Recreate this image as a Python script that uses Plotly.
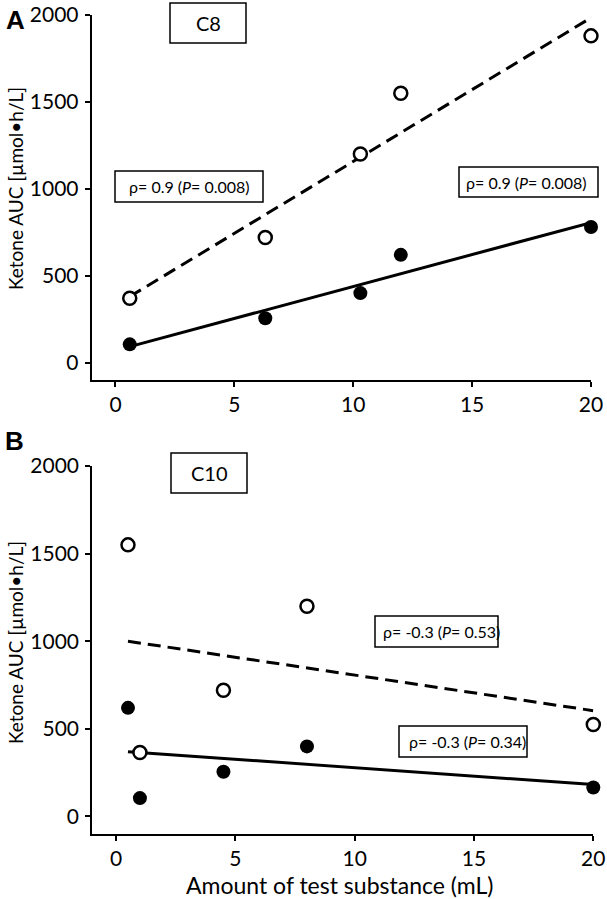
import numpy as np
import plotly.graph_objects as go

W, H = 607, 899

# ---- data ----
c8_x = [0.6, 6.3, 10.3, 12.0, 20.0]
c8_open = [370, 720, 1200, 1550, 1880]
c8_filled = [105, 255, 400, 620, 780]

c10_x = [0.5, 1.0, 4.5, 8.0, 20.0]
c10_open = [1550, 365, 720, 1200, 525]
c10_filled = [620, 105, 255, 400, 165]

y_ticks = [0, 500, 1000, 1500, 2000]
x_ticks = [0, 5, 10, 15, 20]

c8_labels = ["ρ= 0.9 (<i>P</i>= 0.008)", "ρ= 0.9 (<i>P</i>= 0.008)"]
c10_labels = ["ρ= -0.3 (<i>P</i>= 0.53)", "ρ= -0.3 (<i>P</i>= 0.34)"]
y_title = "Ketone AUC [µmol•h/L]"
x_title = "Amount of test substance (mL)"

FONT = "Lato"


def px(x):
    return x / W


def py(y):
    return 1 - y / H


def fit_line(x, y):
    x = np.asarray(x, float)
    y = np.asarray(y, float)
    k, b = np.polyfit(x, y, 1)
    xs = np.array([x.min(), x.max()])
    return xs, k * xs + b


fig = go.Figure()

panels = [
    ("x", "y", c8_x, c8_open, c8_filled),
    ("x2", "y2", c10_x, c10_open, c10_filled),
]
for xa, ya, xs, yo, yf in panels:
    lx, ly = fit_line(xs, yo)
    fig.add_trace(go.Scatter(x=lx, y=ly, mode="lines", xaxis=xa, yaxis=ya,
                             line=dict(color="black", width=3, dash="13px,7px"),
                             showlegend=False, cliponaxis=False, hoverinfo="skip"))
    lx, ly = fit_line(xs, yf)
    fig.add_trace(go.Scatter(x=lx, y=ly, mode="lines", xaxis=xa, yaxis=ya,
                             line=dict(color="black", width=3),
                             showlegend=False, cliponaxis=False, hoverinfo="skip"))
    fig.add_trace(go.Scatter(x=xs, y=yo, mode="markers", xaxis=xa, yaxis=ya,
                             marker=dict(symbol="circle", size=13, color="white",
                                         line=dict(color="black", width=2.5)),
                             showlegend=False, cliponaxis=False))
    fig.add_trace(go.Scatter(x=xs, y=yf, mode="markers", xaxis=xa, yaxis=ya,
                             marker=dict(symbol="circle", size=14, color="black",
                                         line=dict(color="black", width=0)),
                             showlegend=False, cliponaxis=False))

axis_common = dict(showline=True, linewidth=2, linecolor="black", showgrid=False,
                   zeroline=False, ticks="outside", ticklen=5, tickwidth=2,
                   tickcolor="black", automargin=False,
                   tickfont=dict(family=FONT, size=21, color="black"))

fig.update_layout(
    width=W, height=H, autosize=False,
    margin=dict(l=0, r=0, t=0, b=0, pad=0, autoexpand=False),
    paper_bgcolor="white", plot_bgcolor="white",
    xaxis=dict(domain=[px(91.7), px(591)], range=[-1, 20], tickvals=x_ticks,
               anchor="y", **axis_common),
    yaxis=dict(domain=[py(380), py(15)], range=[-100, 2000], tickvals=y_ticks,
               anchor="x", ticklabelstandoff=2, **axis_common),
    xaxis2=dict(domain=[px(92.2), px(593.3)], range=[-1, 20], tickvals=x_ticks,
                anchor="y2", **axis_common),
    yaxis2=dict(domain=[py(834), py(466)], range=[-100, 2000], tickvals=y_ticks,
                anchor="x2", ticklabelstandoff=2, **axis_common),
)

ann = []
shapes = []


def box(x0, y0, x1, y1):
    shapes.append(dict(type="rect", xref="paper", yref="paper",
                       x0=px(x0), x1=px(x1), y0=py(y1), y1=py(y0),
                       line=dict(color="black", width=1.5), fillcolor="white",
                       layer="above"))


def label(text, x, y, size=16, anchor="left"):
    ann.append(dict(text=text, x=px(x), y=py(y), xref="paper", yref="paper",
                    showarrow=False, xanchor=anchor, yanchor="middle",
                    font=dict(family=FONT, size=size, color="black")))


# panel A
box(170, 3, 246, 43)
label("C8", 208, 23, size=20, anchor="center")
box(115, 171, 263, 202)
label(c8_labels[0], 189, 186.5, anchor="center")
box(459, 167, 598, 197)
label(c8_labels[1], 464, 182.5)
# panel B
box(171, 453, 247, 493)
label("C10", 209, 473, size=20, anchor="center")
box(375, 616, 498, 647)
label(c10_labels[0], 381, 631.5)
box(399, 726, 527, 757)
label(c10_labels[1], 407, 741.5)

for letter, cx, cy in [("A", 15.5, 20), ("B", 14.5, 441)]:
    ann.append(dict(text="<b>%s</b>" % letter, x=px(cx), y=py(cy), xref="paper",
                    yref="paper", showarrow=False, xanchor="center", yanchor="middle",
                    font=dict(family="Liberation Sans", size=26, color="black")))

for cy in (189, 643):
    ann.append(dict(text=y_title, x=px(15), y=py(cy), xref="paper", yref="paper",
                    showarrow=False, xanchor="center", yanchor="middle", textangle=-90,
                    font=dict(family=FONT, size=19, color="black")))

ann.append(dict(text=x_title, x=px(339), y=py(885), xref="paper", yref="paper",
                showarrow=False, xanchor="center", yanchor="middle",
                font=dict(family=FONT, size=23, color="black")))

fig.update_layout(annotations=ann, shapes=shapes)
fig.write_html(
    "out.html",
    config={"displayModeBar": False},
    post_script="document.body.style.margin='0';document.body.style.padding='0';"
                "document.documentElement.style.overflow='hidden';",
)
